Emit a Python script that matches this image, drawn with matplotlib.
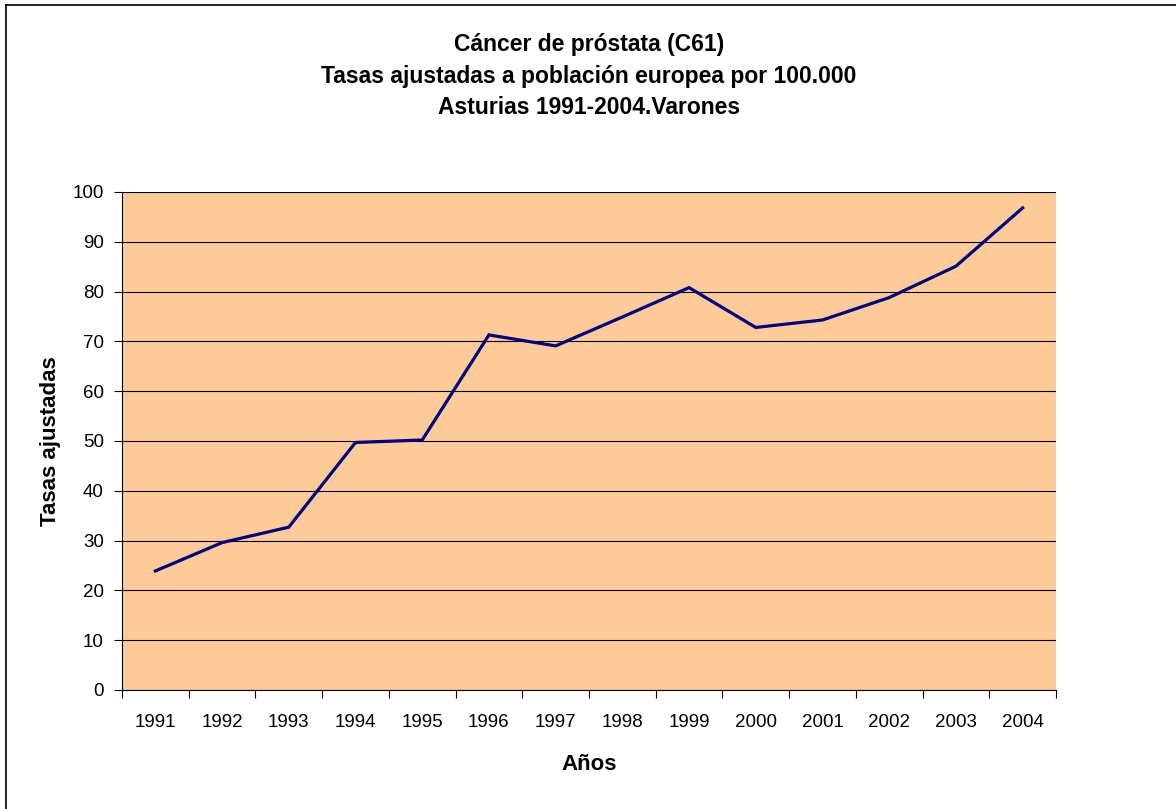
import matplotlib
matplotlib.use("Agg")
import matplotlib.pyplot as plt
from matplotlib.lines import Line2D

# data
years = ["1991", "1992", "1993", "1994", "1995", "1996", "1997",
         "1998", "1999", "2000", "2001", "2002", "2003", "2004"]
tasas = [23.9, 29.6, 32.7, 49.7, 50.2, 71.3, 69.1,
         74.9, 80.8, 72.8, 74.3, 78.8, 85.1, 96.8]
y_ticks = [0, 10, 20, 30, 40, 50, 60, 70, 80, 90, 100]

title_lines = ["Cáncer de próstata (C61)",
               "Tasas ajustadas a población europea por 100.000",
               "Asturias 1991-2004.Varones"]

fam = ["Liberation Sans Narrow", "Liberation Sans", "DejaVu Sans"]
plt.rcParams["font.family"] = fam

W, H = 1176, 809
fig = plt.figure(figsize=(W / 100, H / 100), dpi=100)
ax = fig.add_axes([122 / W, 1 - 690 / H, (1056 - 122) / W, (690 - 192) / H])
ax.set_facecolor("#FFCC99")

x = list(range(len(years)))
ax.plot(x, tasas, color="#000080", lw=2.3, solid_joinstyle="miter", zorder=3)

ax.set_xlim(-0.5, len(years) - 0.5)
ax.set_ylim(0, 100)
ax.set_yticks(y_ticks)
ax.set_yticklabels([str(v) for v in y_ticks], fontsize=13.5)
ax.yaxis.grid(True, color="black", lw=0.8)
ax.set_axisbelow(True)

# category labels centred, ticks between categories
ax.set_xticks(x)
ax.set_xticklabels(years, fontsize=13.5)
ax.tick_params(axis="x", which="major", length=0, pad=17)
ax.set_xticks([i - 0.5 for i in range(len(years) + 1)], minor=True)
ax.tick_params(axis="x", which="minor", length=6, width=0.8, direction="out")
ax.tick_params(axis="y", length=6, width=0.8, pad=7)

for s in ["top", "right"]:
    ax.spines[s].set_visible(False)
for s in ["left", "bottom"]:
    ax.spines[s].set_linewidth(0.8)

ax.set_xlabel("Años", fontsize=16, fontweight="bold", labelpad=17)
ax.set_ylabel("Tasas ajustadas", fontsize=16, fontweight="bold", labelpad=8)

for i, t in enumerate(title_lines):
    fig.text(589 / W, 1 - (45 + 31 * i) / H, t, ha="center", va="center",
             fontsize=16.5, fontweight="bold")

# outer chart frame (only left and top visible in the crop)
fig.add_artist(Line2D([6 / W, 6 / W], [0, 1 - 5 / H], color="black", lw=1.2,
                      transform=fig.transFigure))
fig.add_artist(Line2D([6 / W, 1], [1 - 5 / H, 1 - 5 / H], color="black", lw=1.2,
                      transform=fig.transFigure))

fig.savefig("out.png", dpi=100)
